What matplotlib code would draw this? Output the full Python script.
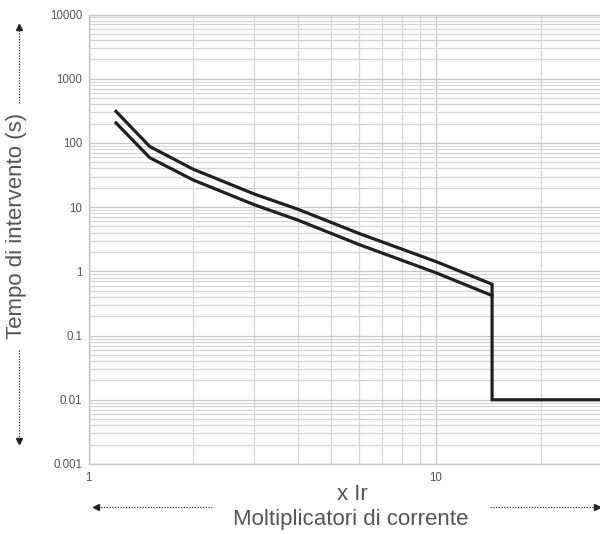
import matplotlib
matplotlib.use("Agg")
import matplotlib.pyplot as plt
from matplotlib.lines import Line2D
from matplotlib.ticker import FixedLocator, FixedFormatter, LogLocator, NullFormatter

# trip curve (multiples of Ir -> seconds)
x_upper = [1.2, 1.5, 2, 3, 4, 6, 10, 14.5, 14.5, 30]
t_upper = [310, 88, 39, 16, 9.3, 3.9, 1.42, 0.63, 0.01, 0.01]
x_lower = [1.2, 1.5, 2, 3, 4, 6, 10, 14.5]
t_lower = [205, 59, 26.5, 10.9, 6.3, 2.62, 0.95, 0.42]

y_ticks = [0.001, 0.01, 0.1, 1, 10, 100, 1000, 10000]
y_labels = ["0.001", "0.01", "0.1", "1", "10", "100", "1000", "10000"]
x_ticks = [1, 10]
x_labels = ["1", "10"]

text_col = "#555555"
grid_col = "#d6d6d6"
curve_col = "#231f20"

plt.rcParams["font.family"] = ["Liberation Sans", "DejaVu Sans"]

fig = plt.figure(figsize=(6, 5.34), dpi=100)
W, H = 600, 534
left, top, bottom = 88.5, 14.5, 464
right = 88.5 + 347.5 * 1.4771
ax = fig.add_axes([left / W, 1 - bottom / H, (right - left) / W, (bottom - top) / H])

ax.set_xscale("log")
ax.set_yscale("log")
ax.set_xlim(1, 30)
ax.set_ylim(0.001, 10000)

ax.yaxis.set_major_locator(FixedLocator(y_ticks))
ax.yaxis.set_major_formatter(FixedFormatter(y_labels))
ax.yaxis.set_minor_locator(LogLocator(base=10, subs=range(2, 10), numticks=20))
ax.yaxis.set_minor_formatter(NullFormatter())
ax.xaxis.set_major_locator(FixedLocator(x_ticks))
ax.xaxis.set_major_formatter(FixedFormatter(x_labels))
ax.xaxis.set_minor_locator(LogLocator(base=10, subs=range(2, 10), numticks=20))
ax.xaxis.set_minor_formatter(NullFormatter())

ax.grid(True, which="major", color="#c8c8c8", linewidth=0.9)
ax.grid(True, which="minor", color=grid_col, linewidth=0.9)
ax.set_axisbelow(True)
ax.tick_params(which="both", length=0, colors=text_col, labelsize=8.3)
ax.tick_params(axis="y", pad=4.5)
ax.tick_params(axis="x", pad=6)
for s in ax.spines.values():
    s.set_color("#c4c4c4")
    s.set_linewidth(1.0)

ax.plot(x_upper, t_upper, color=curve_col, linewidth=2.3, solid_joinstyle="miter")
ax.plot(x_lower, t_lower, color=curve_col, linewidth=2.3, solid_joinstyle="miter")

# axis titles
fig.text(352 / W, 1 - 494 / H, "x Ir", ha="center", va="center", fontsize=16, color=text_col)
fig.text(351 / W, 1 - 520 / H, "Moltiplicatori di corrente", ha="center", va="center",
         fontsize=16, color=text_col)
fig.text(17 / W, 1 - 226 / H, "Tempo di intervento (s)", ha="center", va="center",
         rotation=90, fontsize=16, color=text_col)


def dotted_arrow(x0, y0, x1, y1, marker):
    # dotted shaft with a small solid head at (x1, y1), pixel coords
    fx = [x0 / W, x1 / W]
    fy = [1 - y0 / H, 1 - y1 / H]
    fig.add_artist(Line2D(fx, fy, transform=fig.transFigure, color="#333333",
                          linestyle=(0, (1, 1.2)), linewidth=0.9))
    fig.add_artist(Line2D([fx[1]], [fy[1]], transform=fig.transFigure, color="#222222",
                          marker=marker, markersize=4.5, linestyle="none"))


dotted_arrow(212, 507, 96, 507, "<")
dotted_arrow(490, 507, 597, 507, ">")
dotted_arrow(18.5, 103, 18.5, 27, "^")
dotted_arrow(18.5, 350, 18.5, 441, "v")

fig.savefig("out.png", dpi=100)
